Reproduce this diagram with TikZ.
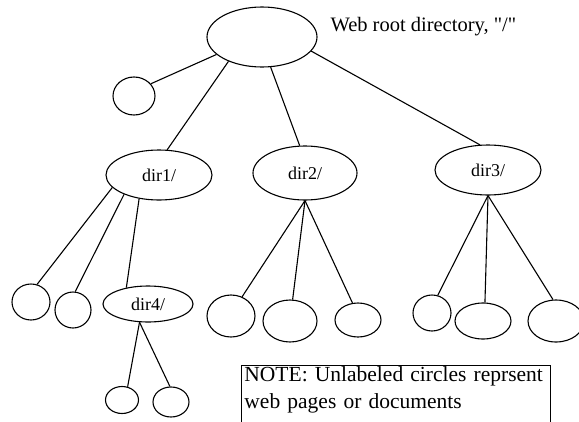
\documentclass[tikz,border=0pt]{standalone}
\usepackage{fontspec}
\setmainfont{Liberation Serif}[Ligatures=TeXOff]
\usetikzlibrary{shapes.geometric}

\begin{document}
\begin{tikzpicture}[x=1pt, y=-1pt, line width=1.1pt,
		page/.style={ellipse, draw, inner sep=0pt},
		folder/.style={ellipse, draw, inner sep=0pt, font=\fontsize{18}{20}\selectfont},
		caption/.style={font=\fontsize{20.5}{27}\selectfont, inner sep=0pt}]
			\useasboundingbox (0,0) rectangle (579,421);
			% Root and its label
			\node[page, minimum width=110, minimum height=60] (root) at (262,37) {};
			\node[caption, anchor=base west] (roottext) at (330,31) {Web root directory, "/"};
			\node[page, minimum width=42, minimum height=38] (p0) at (134,96) {};
			
			% Directories
			\node[folder, minimum width=106, minimum height=50] (dir1) at (159,175) {dir1/};
			\node[folder, minimum width=104, minimum height=54] (dir2) at (305,173) {dir2/};
			\node[folder, minimum width=106, minimum height=50] (dir3) at (488,170) {dir3/};
			\node[folder, minimum width=90, minimum height=36] (dir4) at (148,304) {dir4/};
			
			% Pages
			\node[page, minimum width=38, minimum height=36] (p11) at (31,302) {};
			\node[page, minimum width=36, minimum height=36] (p12) at (73,310) {};
			\node[page, minimum width=33, minimum height=27] (p41) at (122,400) {};
			\node[page, minimum width=36, minimum height=30] (p42) at (171,402) {};
			\node[page, minimum width=48, minimum height=42] (p21) at (231,316) {};
			\node[page, minimum width=54, minimum height=42] (p22) at (290,321) {};
			\node[page, minimum width=46, minimum height=34] (p23) at (358,320) {};
			\node[page, minimum width=38, minimum height=36] (p31) at (432,313) {};
			\node[page, minimum width=56, minimum height=36] (p32) at (483,321) {};
			\node[page, minimum width=56, minimum height=42] (p33) at (556,321) {};
			
			% Edges
			\draw (root.201) -- (p0.36);
			\draw (root.216) -- (dir1.72);
			\draw (root.286) -- (dir2.101);
			\draw (root.344) -- (dir3.108);
			\draw (dir1.195) -- (p11.71);
			\draw (dir1.209) -- (p12.83);
			\draw (dir1.230) -- (dir4.143);
			\draw (dir4.245) -- (p41.67);
			\draw (dir4.245) -- (p42.94);
			\draw (dir2.south) -- (p21.60);
			\draw (dir2.south) -- (p22.83);
			\draw (dir2.south) -- (p23.108);
			\draw (dir3.south) -- (p31.72);
			\draw (dir3.south) -- (p32.84);
			\draw (dir3.south) -- (p33.98);
			
			% Note box, runs off the bottom edge
			\node[caption, font=\fontsize{21.5}{27}\selectfont, draw, line width=0.9pt, anchor=north west, align=left, text width=303, inner xsep=3pt, inner ysep=1.5pt] (note) at (241,365) {NOTE: Unlabeled circles reprsent\\web pages or documents\rule[-16pt]{0pt}{1pt}};
		\end{tikzpicture}
\end{document}
